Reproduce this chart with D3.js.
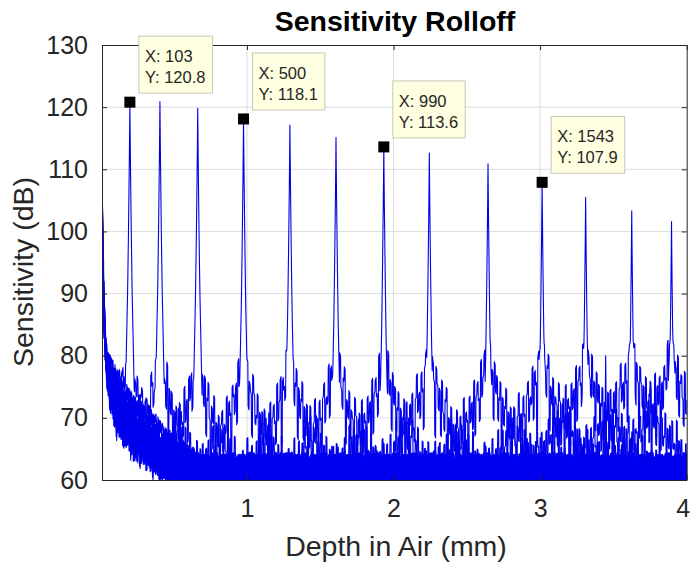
<!DOCTYPE html>
<html>
<head>
<meta charset="utf-8">
<script src="https://cdn.jsdelivr.net/npm/d3@7"></script>
<style>
  html, body { margin: 0; padding: 0; background: #fff; }
  svg { display: block; font-family: "Liberation Sans", Arial, Helvetica, sans-serif; }
</style>
</head>
<body>
<svg id="chart" width="691" height="567"></svg>
<script>
// ---------------- data ----------------
const title = "Sensitivity Rolloff";
const xLabel = "Depth in Air (mm)";
const yLabel = "Sensitivity (dB)";
const xTicks = [1, 2, 3, 4];
const yTicks = [60, 70, 80, 90, 100, 110, 120, 130];

// sample index -> depth (mm): 2048 samples over 4 mm
const samplesPerMm = 512;
const firstSample = 6;
const lastSample = 2048;

// one A-scan trace per mirror position: peak sample index and peak height (dB)
const peakIndex = [103, 208, 340, 500, 662, 823, 990, 1149, 1354, 1543, 1695, 1856, 1995];
const peakDb    = [120.8, 120.9, 119.8, 118.1, 117.1, 115.1, 113.6, 112.6, 110.9, 107.9, 105.5, 103.3, 101.6];
// relative broadening of each peak's skirt (deeper = broader)
const peakWidth = [1.0, 1.0, 1.0, 1.05, 1.1, 1.15, 1.2, 1.3, 1.4, 1.5, 1.6, 1.7, 1.8];
// per-trace position of its DC roll-off between the lowest (0) and highest (1) curve
const dcMix     = [1.0, 0.85, 0.5, 0.7, 0.35, 0.2, 0.0, 0.6, 0.3, 0.1, 0.45, 0.15, 0.9];

// lowest and highest DC roll-off curves (depth mm, dB)
const dcDepth  = [0.011, 0.02, 0.025, 0.035, 0.045, 0.065, 0.1, 0.15, 0.22, 0.3, 0.34, 0.45, 0.6, 0.8, 1.2, 4.0];
const dcLowDb  = [100, 88, 84, 79, 76, 73, 69.5, 67, 65.2, 63.8, 62.9, 60.5, 58, 55, 50, 40];
const dcHighDb = [110, 96, 90, 84, 80.5, 79, 77.5, 76, 74, 71.5, 70.5, 67.5, 64.5, 61, 56, 45];

// spike core, relative to each peak (distance mm, dB below peak)
const coreDist = [0, 0.003, 0.009, 0.015, 0.024, 0.05];
const coreDrop = [0, 8, 20, 30, 40, 70];
// speckled skirt around each peak (distance from peak in mm, dB)
const skirtDist = [0, 0.012, 0.022, 0.04, 0.06, 0.1, 0.15, 0.2, 0.3, 0.5, 4.0];
const skirtDb   = [84, 82, 78, 76, 74, 71, 68, 65, 62, 58, 40];
const floorDb = 61.5;

// isolated artefact spike
const extraSpikeIndex = 1765;
const extraSpikeDb = 80.0;
const extraSpikeTrace = 9;

// speckle texture (dB), estimated by eye
const noise = [0.8,-2.1,1.9,-4.6,0.3,2.7,-1.2,-6.3,1.1,-0.4,3.2,-2.8,0.6,-1.7,2.2,-5.1,-0.2,1.5,-3.4,2.9,
  0.1,-7.0,1.8,-0.9,2.5,-2.2,-4.0,0.9,3.5,-1.4,0.4,-3.0,2.0,-0.6,-5.8,1.3,2.6,-2.5,0.0,-1.1,
  3.0,-3.8,1.6,-0.3,-6.7,2.3,0.7,-1.9,1.0,-4.3,2.8,-0.8,-2.6,1.4,3.3,-5.4,0.2,-1.5,2.1,-3.2,
  0.5,-0.1,-4.9,3.1,1.2,-2.0,-0.7,2.4,-6.0,0.9,-1.3,1.7,-3.6,2.7,-0.5,0.3,-2.4,3.6,-4.5,1.5,
  -1.0,2.0,-7.4,0.6,-2.9,1.9,0.0,-1.6,3.4,-3.3,1.1,-0.2,-5.2,2.2,-1.2,0.8,-2.7,2.9,-4.1,0.4,
  1.6,-0.9,-3.9,3.0,-1.8,0.1,2.5,-6.1,1.3,-0.4,-2.3,3.2,-1.4,0.7,-4.8,2.6,-0.6,1.8,-3.1,-0.1,
  2.3,-5.6,1.0,-2.0,0.5,3.1,-3.5];

// data tips
const tipIndex = [103, 500, 990, 1543];
const tipDb    = [120.8, 118.1, 113.6, 107.9];

// ---------------- layout ----------------
const svg = d3.select("#chart");
const plot = { left: 102, right: 686.7, top: 45, bottom: 480 };
const x = d3.scaleLinear().domain([0.011, 4]).range([plot.left, plot.right]);
const y = d3.scaleLinear().domain([60, 130]).range([plot.bottom, plot.top]);
const axisColor = "#262626";
const traceColor = "#0000ee";

svg.append("rect").attr("width", 691).attr("height", 567).attr("fill", "#fff");

// grid
const grid = svg.append("g");
grid.selectAll("line.gy").data(yTicks.slice(1, -1)).join("line")
  .attr("x1", plot.left).attr("x2", plot.right)
  .attr("y1", d => y(d)).attr("y2", d => y(d))
  .attr("stroke", "#dcdcdc").attr("stroke-width", 1);
grid.selectAll("line.gx").data(xTicks.slice(0, -1)).join("line")
  .attr("y1", plot.top).attr("y2", plot.bottom)
  .attr("x1", d => x(d)).attr("x2", d => x(d))
  .attr("stroke", "#dcdcdc").attr("stroke-width", 1);

// ---------------- build traces ----------------
const depthOf = i => i / samplesPerMm;
const dcLow = d3.scaleLinear().domain(dcDepth).range(dcLowDb).clamp(true);
const dcHigh = d3.scaleLinear().domain(dcDepth).range(dcHighDb).clamp(true);
const coreScale = d3.scaleLinear().domain(coreDist).range(coreDrop).clamp(true);
const skirtScale = d3.scaleLinear().domain(skirtDist).range(skirtDb).clamp(true);
const noiseGain = d3.scaleLinear().domain([0.012, 0.025]).range([0, 1]).clamp(true);
const spikeScale = d3.scaleLinear().domain([0, 0.006, 0.012]).range([extraSpikeDb, 66, 40]).clamp(true);
const NL = noise.length;

const traces = peakIndex.map((pi, t) => {
  const pts = [];
  for (let i = firstSample; i <= lastSample; i++) {
    const d = depthOf(i);
    const nA = noise[(i * 7 + 53 * t) % NL];
    const nB = noise[(Math.floor(i / 4) + 19 * t) % NL];
    const dc = dcLow(d) + dcMix[t] * (dcHigh(d) - dcLow(d));
    let v = dc + nA * 0.35;
    v = Math.max(v, floorDb + nA * 0.8);
    const dist = Math.abs(i - pi) / samplesPerMm;
    const core = peakDb[t] - coreScale(dist);
    const sd = dist <= 0.012 ? dist : 0.012 + (dist - 0.012) / peakWidth[t];
    const sk = skirtScale(sd) + noiseGain(dist) * (nB * 1.3 - 1);
    v = Math.max(v, core, sk);
    if (t === extraSpikeTrace) {
      v = Math.max(v, spikeScale(Math.abs(i - extraSpikeIndex) / samplesPerMm));
    }
    pts.push([d, v]);
  }
  return pts;
});

svg.append("clipPath").attr("id", "clip").append("rect")
  .attr("x", plot.left).attr("y", plot.top)
  .attr("width", plot.right - plot.left).attr("height", plot.bottom - plot.top);

const line = d3.line().x(p => x(p[0])).y(p => y(p[1]));
svg.append("g").attr("clip-path", "url(#clip)")
  .selectAll("path").data(traces).join("path")
  .attr("d", line)
  .attr("fill", "none")
  .attr("stroke", traceColor)
  .attr("stroke-width", 1.1)
  .attr("stroke-linejoin", "round");

// ---------------- axes ----------------
const gL = svg.append("g").attr("transform", `translate(${plot.left},0)`)
  .call(d3.axisLeft(y).tickValues(yTicks).tickSizeInner(-5).tickSizeOuter(0).tickPadding(14));
const gB = svg.append("g").attr("transform", `translate(0,${plot.bottom})`)
  .call(d3.axisBottom(x).tickValues(xTicks).tickSizeInner(-5).tickSizeOuter(0).tickPadding(19).tickFormat(d3.format("d")));
const gR = svg.append("g").attr("transform", `translate(${plot.right},0)`)
  .call(d3.axisRight(y).tickValues(yTicks).tickSizeInner(-5).tickSizeOuter(0).tickFormat(""));
const gT = svg.append("g").attr("transform", `translate(0,${plot.top})`)
  .call(d3.axisTop(x).tickValues(xTicks).tickSizeInner(-5).tickSizeOuter(0).tickFormat(""));
[gL, gB, gR, gT].forEach(g => {
  g.select(".domain").attr("stroke", axisColor).attr("stroke-width", 1);
  g.selectAll(".tick line").attr("stroke", axisColor);
  g.selectAll(".tick text").attr("fill", axisColor)
    .style("font-size", "25px").style("font-family", '"Liberation Sans", Arial, sans-serif');
});
// keep the last x label inside the window edge
gB.selectAll(".tick text").filter(d => d === 4).attr("dx", -4);

// ---------------- data tips ----------------
const tips = svg.append("g");
tipIndex.forEach((idx, k) => {
  const mx = x(depthOf(idx)), my = y(tipDb[k]);
  const g = tips.append("g");
  const bx = mx + 9, by = my - 9 - 57;
  const rect = g.append("rect").attr("x", bx).attr("y", by).attr("height", 57)
    .attr("fill", "#ffffe1").attr("stroke", "#c8c8b6").attr("stroke-width", 1);
  const t1 = g.append("text").attr("x", bx + 6).attr("y", by + 26)
    .attr("fill", axisColor).style("font-size", "16.5px").text("X: " + idx);
  const t2 = g.append("text").attr("x", bx + 6).attr("y", by + 47)
    .attr("fill", axisColor).style("font-size", "16.5px").text("Y: " + tipDb[k].toFixed(1));
  const w = Math.max(t1.node().getComputedTextLength(), t2.node().getComputedTextLength()) + 13;
  rect.attr("width", w);
  g.append("rect").attr("x", mx - 5.5).attr("y", my - 5.5).attr("width", 11).attr("height", 11).attr("fill", "#000");
});

// ---------------- titles ----------------
svg.append("text").attr("x", 395).attr("y", 31).attr("text-anchor", "middle")
  .style("font-size", "28.5px").style("font-weight", "bold").attr("fill", "#000").text(title);
svg.append("text").attr("x", 396).attr("y", 556).attr("text-anchor", "middle")
  .style("font-size", "28.5px").attr("fill", axisColor).text(xLabel);
svg.append("text").attr("transform", "translate(33,272) rotate(-90)").attr("text-anchor", "middle")
  .style("font-size", "28.5px").attr("fill", axisColor).text(yLabel);
</script>
</body>
</html>
